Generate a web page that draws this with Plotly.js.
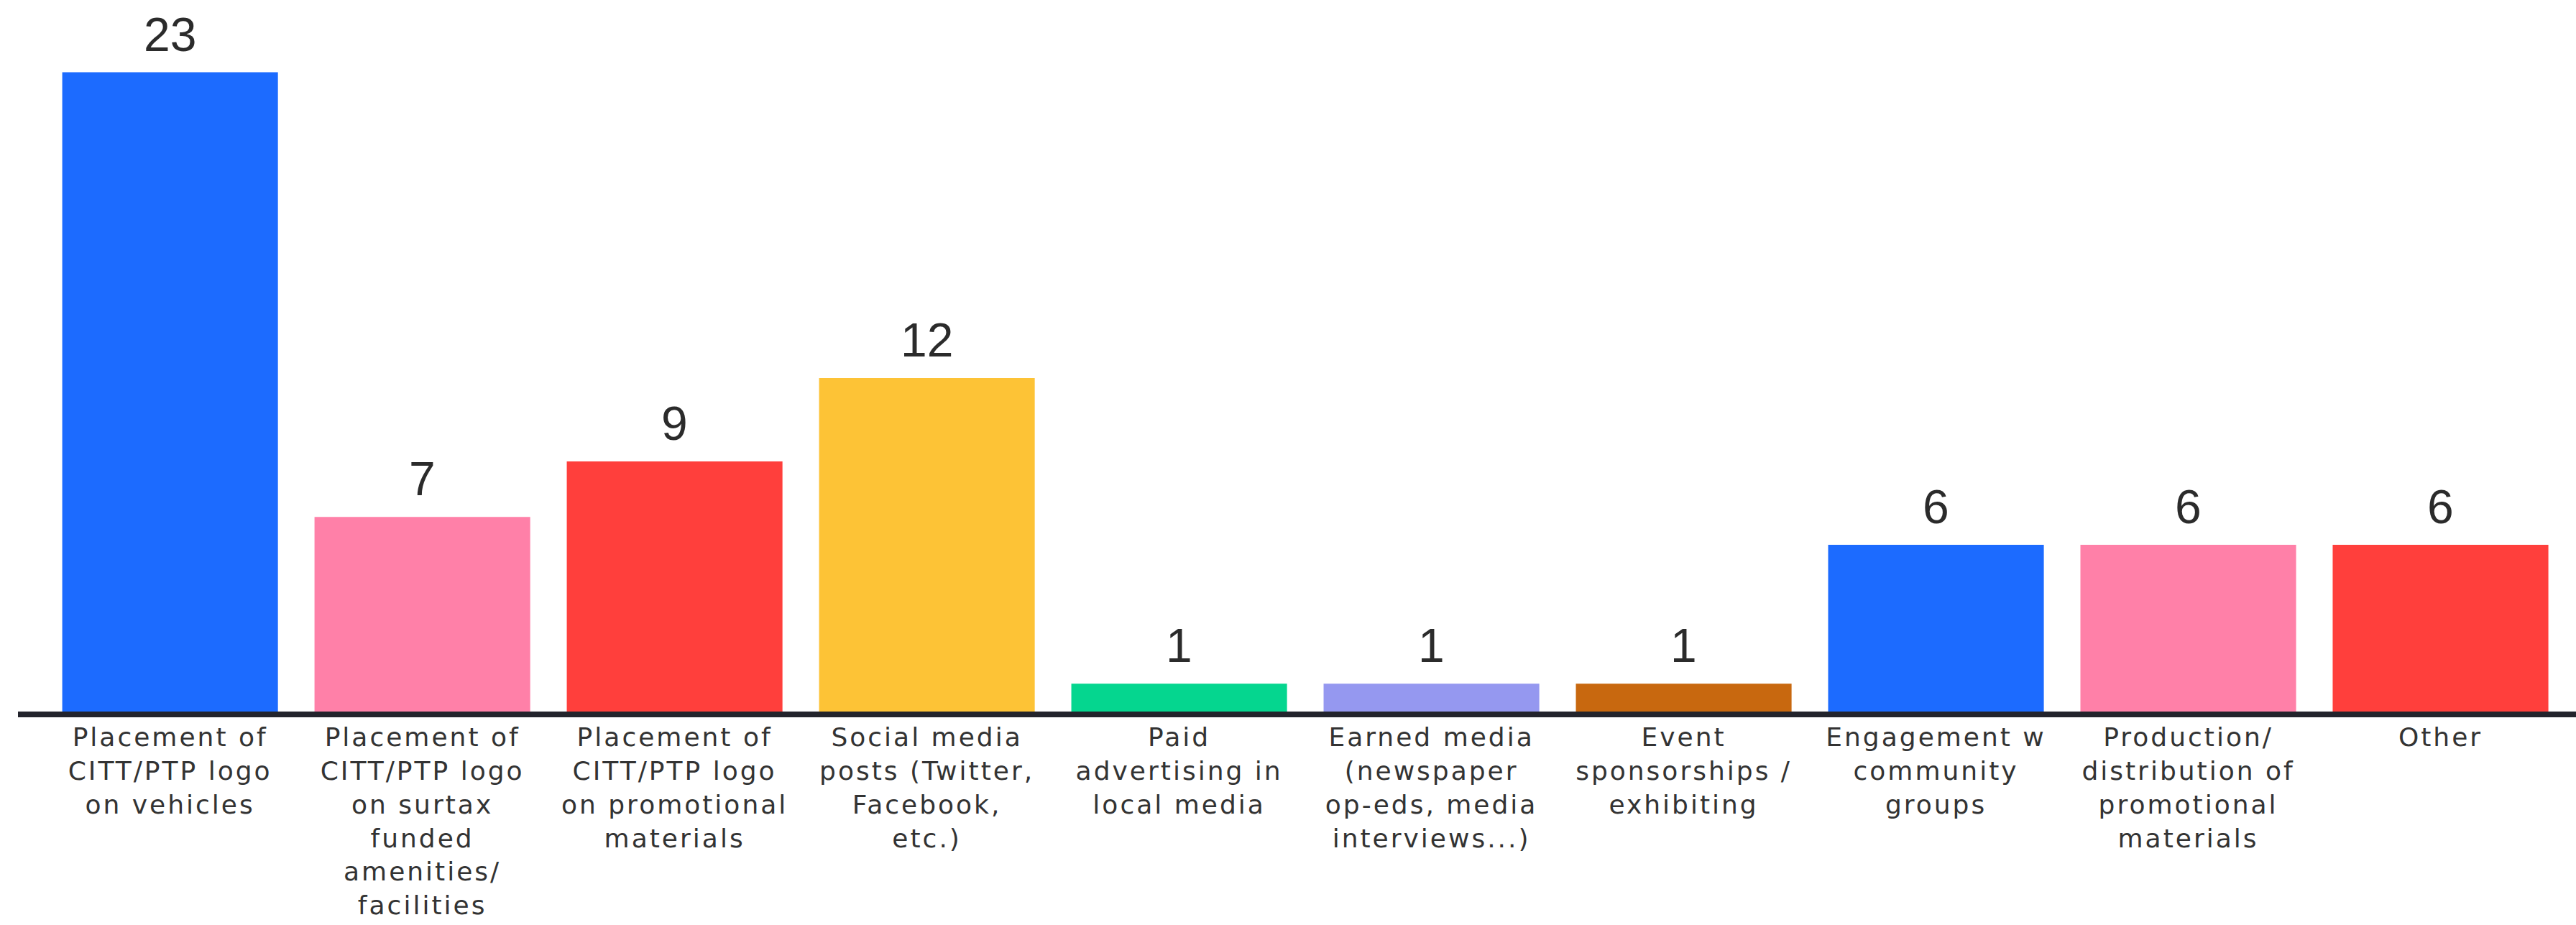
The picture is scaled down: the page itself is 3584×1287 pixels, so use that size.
<!DOCTYPE html>
<html>
<head>
<meta charset="utf-8">
<script src="https://cdn.plot.ly/plotly-3.0.1.min.js"></script>
<style>
  html, body { margin: 0; padding: 0; background: #ffffff; }
  #chart { width: 3584px; height: 1287px; }
  #chart .xtick text { letter-spacing: 3px; }
</style>
</head>
<body>
<div id="chart"></div>
<script>
const categories = [
  "Placement of<br>CITT/PTP logo<br>on vehicles",
  "Placement of<br>CITT/PTP logo<br>on surtax<br>funded<br>amenities/<br>facilities",
  "Placement of<br>CITT/PTP logo<br>on promotional<br>materials",
  "Social media<br>posts (Twitter,<br>Facebook,<br>etc.)",
  "Paid<br>advertising in<br>local media",
  "Earned media<br>(newspaper<br>op-eds, media<br>interviews...)",
  "Event<br>sponsorships /<br>exhibiting",
  "Engagement w<br>community<br>groups",
  "Production/<br>distribution of<br>promotional<br>materials",
  "Other"
];
const values = [23, 7, 9, 12, 1, 1, 1, 6, 6, 6];
const barColors = ["#1c6bff", "#ff80a8", "#ff3f3c", "#fdc336", "#05d68f", "#9598f0", "#c8680f", "#1c6bff", "#ff80a8", "#ff3f3c"];

const trace = {
  type: "bar",
  x: categories,
  y: values,
  marker: { color: barColors, line: { width: 0 } },
  hoverinfo: "skip"
};

const annotations = categories.map((c, i) => ({
  x: c,
  y: values[i],
  xref: "x",
  yref: "y",
  text: String(values[i]),
  showarrow: false,
  yanchor: "bottom",
  yshift: 14,
  font: { family: "Liberation Sans, Arial, sans-serif", size: 66, color: "#2b2b2b" }
}));

const layout = {
  width: 3584,
  height: 1287,
  margin: { l: 25, r: 0, t: 60, b: 297 },
  paper_bgcolor: "#ffffff",
  plot_bgcolor: "#ffffff",
  bargap: 0.145,
  showlegend: false,
  xaxis: {
    type: "category",
    range: [-0.603, 9.537],
    showline: true,
    linecolor: "#23242c",
    linewidth: 8,
    showgrid: false,
    zeroline: false,
    ticks: "",
    ticklabelstandoff: -3,
    tickangle: 0,
    tickfont: { family: "DejaVu Sans, sans-serif", size: 36, color: "#333333" }
  },
  yaxis: {
    range: [0, 24.05],
    visible: false,
    showgrid: false,
    zeroline: false
  },
  annotations: annotations
};

Plotly.newPlot("chart", [trace], layout, { displayModeBar: false, staticPlot: true });
</script>
</body>
</html>
